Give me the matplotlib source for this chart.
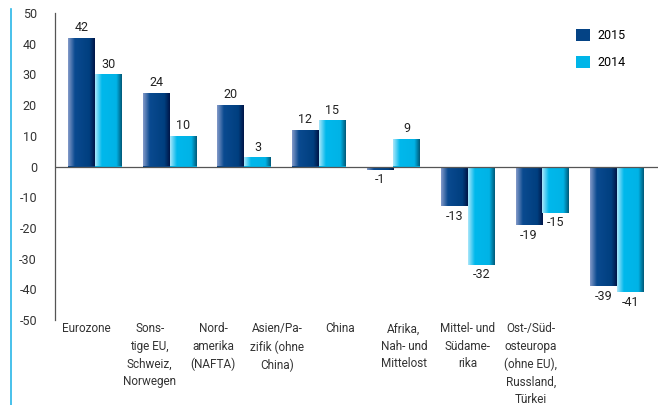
import numpy as np
import matplotlib.pyplot as plt
from matplotlib.colors import LinearSegmentedColormap
from matplotlib.patches import Patch
from matplotlib.lines import Line2D

plt.rcParams['font.family'] = ['Liberation Sans Narrow', 'DejaVu Sans Condensed', 'Roboto', 'DejaVu Sans']

# data
categories = ["Eurozone", "Sons-\ntige EU,\nSchweiz,\nNorwegen", "Nord-\namerika\n(NAFTA)",
              "Asien/Pa-\nzifik (ohne\nChina)", "China", "Afrika,\nNah- und\nMittelost",
              "Mittel- und\nSüdame-\nrika", "Ost-/Süd-\nosteuropa\n(ohne EU),\nRussland,\nTürkei"]
v2015 = [42, 24, 20, 12, -1, -13, -19, -39]
v2014 = [30, 10, 3, 15, 9, -32, -15, -41]
yticks = list(range(-50, 51, 10))

# gradient colormaps (light left edge, main body, dark right edge)
cm15 = LinearSegmentedColormap.from_list("c15", [(0, "#8299c8"), (0.25, "#0a4a90"), (0.8, "#003f7f"), (1, "#001648")])
cm14 = LinearSegmentedColormap.from_list("c14", [(0, "#a8e6fa"), (0.25, "#00b8ec"), (0.8, "#00b3e6"), (1, "#005a7a")])

fig = plt.figure(figsize=(6.63, 4.05), dpi=100)
ax = fig.add_axes([55/663, 1-320/405, 603/663, 307/405])

x = np.arange(len(categories))
w = 0.36
grad = np.linspace(0, 1, 64).reshape(1, -1)

for vals, off, cm in [(v2015, -w/2, cm15), (v2014, w/2, cm14)]:
    bars = ax.bar(x + off, vals, w, color=cm(0.5), edgecolor='none', zorder=2)
    for b, v in zip(bars, vals):
        x0 = b.get_x()
        im = ax.imshow(grad, cmap=cm, aspect='auto', extent=(x0, x0 + w, 0, v), zorder=3)
        im.set_clip_path(b)
        if v >= 0:
            ax.text(x0 + w/2, v + 1.2, str(v), ha='center', va='bottom', fontsize=9, color='#222222')
        else:
            ax.text(x0 + w/2, v - 1.2, str(v), ha='center', va='top', fontsize=9, color='#222222')

ax.axhline(0, color='#555555', lw=0.9, zorder=4)
ax.set_xlim(-0.54, 7.55)
ax.set_ylim(-50, 50)
ax.set_yticks(yticks)
ax.set_yticklabels([str(t) for t in yticks], fontsize=9, color='#333333')
ax.tick_params(axis='y', length=0, pad=13)
ax.set_xticks([])
for s in ['top', 'right', 'bottom']:
    ax.spines[s].set_visible(False)
ax.spines['left'].set_color('#555555')
ax.spines['left'].set_linewidth(0.9)

# category labels
lab_x = np.arange(len(categories)) * 0.852 - 0.12
for lx, c in zip(lab_x, categories):
    ax.text(lx, -50.8, c, ha='center', va='top', fontsize=8.5, color='#333333', linespacing=1.45)

# legend
handles = [Patch(facecolor=cm15(0.6), edgecolor='none'), Patch(facecolor=cm14(0.6), edgecolor='none')]
ax.legend(handles, ['2015', '2014'], loc='upper left', bbox_to_anchor=(0.845, 0.985), frameon=False,
          handlelength=1.1, handleheight=1.1, labelspacing=1.1, fontsize=9, handletextpad=0.6)

fig.add_artist(Line2D([11/663, 11/663], [0, 1-9/405], color='#29b6e8', lw=1.2))

fig.savefig('out.png', dpi=100)
